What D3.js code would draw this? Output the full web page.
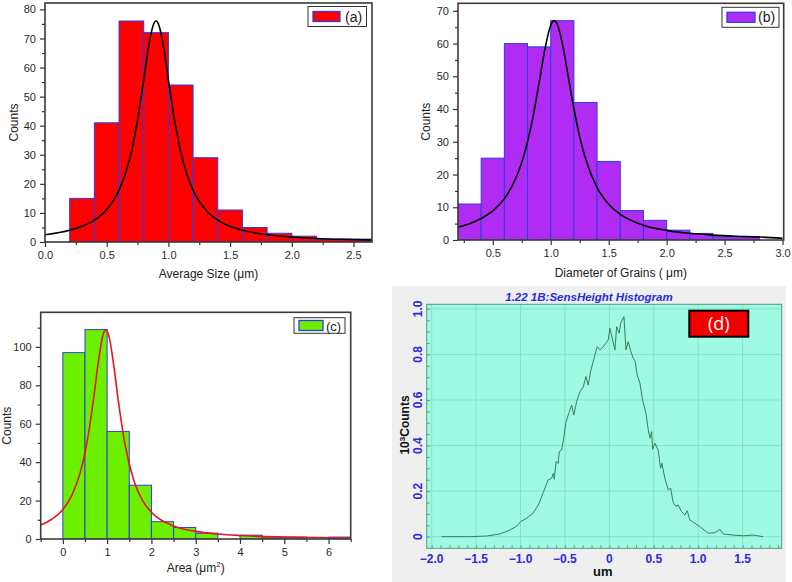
<!DOCTYPE html>
<html>
<head>
<meta charset="utf-8">
<script src="https://cdn.jsdelivr.net/npm/d3@7"></script>
<style>
  body { margin: 0; background: #fff; }
  svg { display: block; font-family: "Liberation Sans", Arial, sans-serif; }
</style>
</head>
<body>
<div id="chart"></div>
<script>
// ---- (a) Average Size ----
const sizeEdges = [0.2, 0.4, 0.6, 0.8, 1.0, 1.2, 1.4, 1.6, 1.8, 2.0, 2.2, 2.4, 2.6, 2.8];
const sizeCounts = [15, 41, 76, 72, 54, 29, 11, 5, 3, 2, 1, 1, 1];
const sizeFitX = [0, 0.2, 0.3, 0.4, 0.5, 0.6, 0.65, 0.7, 0.75, 0.8, 0.85, 0.875, 0.9, 0.925, 0.95, 1.0, 1.05, 1.1, 1.15, 1.2, 1.3, 1.4, 1.5, 1.6, 1.8, 2.0, 2.2, 2.4, 2.65];
const sizeFitY = [2.5, 4.05, 5.41, 7.55, 11.2, 17.8, 23.3, 31.0, 41.9, 55.8, 69.7, 74.3, 76, 74.3, 69.7, 55.8, 41.9, 31.0, 23.3, 17.8, 11.2, 7.55, 5.41, 4.05, 2.5, 1.7, 1.22, 0.92, 0.68];

// ---- (b) Diameter of Grains ----
const diamEdges = [0.2, 0.4, 0.6, 0.8, 1.0, 1.2, 1.4, 1.6, 1.8, 2.0, 2.2, 2.4, 2.6, 2.8];
const diamCounts = [11, 25, 60, 59, 67, 42, 24, 9, 6, 3, 2, 1, 1];
const diamFitX = [0.2, 0.3, 0.4, 0.5, 0.6, 0.7, 0.75, 0.8, 0.85, 0.9, 0.95, 1.0, 1.03, 1.05, 1.1, 1.15, 1.2, 1.25, 1.3, 1.4, 1.5, 1.6, 1.8, 2.0, 2.2, 2.4, 2.6, 2.8, 3.0];
const diamFitY = [3.94, 5.0, 6.55, 8.9, 12.64, 18.97, 23.7, 30.0, 38.2, 48.1, 58.3, 65.6, 67, 66.4, 60.1, 50.2, 40.1, 31.5, 24.9, 16.0, 10.9, 7.83, 4.53, 2.93, 2.04, 1.5, 1.15, 0.91, 0.5];

// ---- (c) Area ----
const areaEdges = [0, 0.5, 1, 1.5, 2, 2.5, 3, 3.5, 4, 4.5, 5, 5.5, 6, 6.5];
const areaCounts = [97, 109, 56, 28, 9, 6, 3, 0, 2, 1, 1, 0, 1];
const areaFitX = [-0.5, -0.25, 0, 0.2, 0.4, 0.5, 0.6, 0.7, 0.8, 0.9, 0.97, 1.05, 1.15, 1.25, 1.4, 1.6, 1.8, 2.0, 2.5, 3.0, 3.5, 4.0, 5.0, 6.0, 6.5];
const areaFitY = [7.3, 10.28, 15.4, 22.6, 35.2, 44.9, 57.9, 74.1, 91.9, 105.7, 109, 104.7, 90.2, 72.4, 49.7, 30.6, 20.0, 13.9, 6.77, 3.95, 2.58, 1.81, 1.03, 0.66, 0.55];

// ---- (d) SensHeight histogram (10^3 counts) ----
const heightX = [-1.89, -1.57, -1.38, -1.23, -1.12, -1.04, -1.0, -0.93, -0.86, -0.80, -0.74, -0.69, -0.65, -0.63, -0.62, -0.60, -0.575, -0.564, -0.537, -0.511, -0.49, -0.463, -0.45, -0.425, -0.40, -0.368, -0.331, -0.294, -0.264, -0.238, -0.211, -0.181, -0.162, -0.136, -0.106, -0.069, -0.039, -0.013, 0.006, 0.032, 0.063, 0.082, 0.111, 0.127, 0.164, 0.187, 0.212, 0.243, 0.269, 0.291, 0.314, 0.344, 0.374, 0.412, 0.438, 0.457, 0.476, 0.487, 0.513, 0.55, 0.577, 0.592, 0.625, 0.663, 0.69, 0.719, 0.749, 0.775, 0.813, 0.851, 0.876, 0.907, 0.963, 1.019, 1.113, 1.188, 1.244, 1.281, 1.394, 1.506, 1.619, 1.73];
const heightY = [0, 0, 0.003, 0.012, 0.029, 0.047, 0.066, 0.081, 0.103, 0.139, 0.198, 0.249, 0.256, 0.278, 0.252, 0.329, 0.322, 0.373, 0.381, 0.439, 0.50, 0.534, 0.55, 0.578, 0.534, 0.593, 0.637, 0.656, 0.703, 0.666, 0.725, 0.769, 0.798, 0.834, 0.82, 0.834, 0.849, 0.864, 0.915, 0.871, 0.82, 0.922, 0.893, 0.937, 0.966, 0.82, 0.856, 0.812, 0.783, 0.769, 0.71, 0.674, 0.6, 0.542, 0.469, 0.432, 0.461, 0.384, 0.41, 0.381, 0.3, 0.322, 0.256, 0.205, 0.212, 0.149, 0.132, 0.139, 0.11, 0.095, 0.114, 0.073, 0.059, 0.044, 0.015, 0.018, 0.032, 0.012, 0.007, 0.004, 0.007, 0];
const heightTicksX = [-2.0, -1.5, -1.0, -0.5, 0, 0.5, 1.0, 1.5];
const heightTicksY = [0, 0.2, 0.4, 0.6, 0.8, 1.0];

const svg = d3.select("#chart").append("svg").attr("width", 792).attr("height", 582);
svg.append("rect").attr("width", 792).attr("height", 582).attr("fill", "#fff");

const BAR_EDGE = "#2b3ee6";
const AXIS_COL = "#333";

function range(a, b, s) {
  const out = [];
  for (let v = a; v <= b + 1e-9; v += s) out.push(+v.toFixed(4));
  return out;
}

function drawHist(p) {
  const x = d3.scaleLinear().domain(p.xDomain).range([p.left, p.right]);
  const y = d3.scaleLinear().domain(p.yDomain).range([p.bottom, p.top]);
  const g = svg.append("g");

  g.append("clipPath").attr("id", "clip-" + p.id)
    .append("rect")
    .attr("x", p.left).attr("y", p.top)
    .attr("width", p.right - p.left).attr("height", p.bottom - p.top);

  const plot = g.append("g").attr("clip-path", `url(#clip-${p.id})`);

  plot.selectAll("rect.bar")
    .data(p.counts)
    .join("rect")
    .attr("class", "bar")
    .attr("x", (d, i) => x(p.edges[i]))
    .attr("width", (d, i) => x(p.edges[i + 1]) - x(p.edges[i]))
    .attr("y", d => y(d))
    .attr("height", d => y(0) - y(d))
    .attr("fill", p.fill)
    .attr("stroke", BAR_EDGE)
    .attr("stroke-width", 1);

  const line = d3.line()
    .x(d => x(d[0]))
    .y(d => y(d[1]))
    .curve(d3.curveMonotoneX);
  plot.append("path")
    .datum(p.fitX.map((v, i) => [v, p.fitY[i]]))
    .attr("d", line)
    .attr("fill", "none")
    .attr("stroke", p.fitColor)
    .attr("stroke-width", 1.6);

  // axes: majors with labels, minors without
  const xAx = g.append("g").attr("transform", `translate(0,${p.bottom})`)
    .call(d3.axisBottom(x).tickValues(p.xTicks).tickFormat(p.xFmt).tickSize(5).tickPadding(4));
  const xMin = g.append("g").attr("transform", `translate(0,${p.bottom})`)
    .call(d3.axisBottom(x).tickValues(p.xMinor).tickFormat("").tickSize(3));
  const yAx = g.append("g").attr("transform", `translate(${p.left},0)`)
    .call(d3.axisLeft(y).tickValues(p.yTicks).tickSize(5).tickPadding(4));
  const yMin = g.append("g").attr("transform", `translate(${p.left},0)`)
    .call(d3.axisLeft(y).tickValues(p.yMinor).tickFormat("").tickSize(3));

  [xAx, xMin, yAx, yMin].forEach(a => {
    a.select(".domain").remove();
    a.selectAll("line").attr("stroke", AXIS_COL).attr("stroke-width", 1.2);
    a.selectAll("text").attr("fill", "#2a2a2a").attr("font-size", 11)
      .attr("font-family", "Liberation Sans, Arial, sans-serif");
  });

  // frame
  g.append("rect")
    .attr("x", p.left).attr("y", p.top)
    .attr("width", p.right - p.left).attr("height", p.bottom - p.top)
    .attr("fill", "none").attr("stroke", "#3a3a3a").attr("stroke-width", 1.6);

  // legend
  const L = p.legend;
  g.append("rect").attr("x", L.x).attr("y", L.y).attr("width", L.w).attr("height", L.h)
    .attr("fill", "#fff").attr("stroke", "#333").attr("stroke-width", 1);
  g.append("rect").attr("x", L.x + 5).attr("y", L.y + L.h / 2 - 5).attr("width", L.sw).attr("height", 10)
    .attr("fill", p.fill).attr("stroke", BAR_EDGE).attr("stroke-width", 1.3);
  g.append("text").attr("x", L.x + L.sw + L.tx).attr("y", L.y + L.h / 2 + 5)
    .attr("font-size", L.fs).attr("fill", "#222").text(L.text);

  // axis titles
  const xt = g.append("text").attr("x", (p.left + p.right) / 2).attr("y", p.xTitleY)
    .attr("text-anchor", "middle").attr("font-size", 12).attr("fill", "#222");
  p.xTitle(xt);
  g.append("text")
    .attr("transform", `translate(${p.yTitleX},${(p.top + p.bottom) / 2}) rotate(-90)`)
    .attr("text-anchor", "middle").attr("dy", "0.35em")
    .attr("font-size", 12).attr("fill", "#222").text("Counts");
}

const f1 = d3.format(".1f");

drawHist({
  id: "a", left: 45, top: 3, right: 372, bottom: 242,
  xDomain: [0, 2.65], yDomain: [0, 82.2],
  edges: sizeEdges, counts: sizeCounts, fitX: sizeFitX, fitY: sizeFitY,
  fill: "#ff0000", fitColor: "#000",
  xTicks: range(0, 2.5, 0.5), xMinor: range(0.25, 2.25, 0.5), xFmt: f1,
  yTicks: range(0, 80, 10), yMinor: range(5, 75, 10),
  legend: { x: 308, y: 6.5, w: 58.5, h: 20, sw: 27, tx: 10, fs: 14, text: "(a)" },
  xTitleY: 277.5, yTitleX: 14,
  xTitle: t => t.text("Average Size (\u03bcm)")
});

drawHist({
  id: "b", left: 458, top: 3.3, right: 783.7, bottom: 240,
  xDomain: [0.2, 3.01], yDomain: [0, 72.3],
  edges: diamEdges, counts: diamCounts, fitX: diamFitX, fitY: diamFitY,
  fill: "#b02cf2", fitColor: "#000",
  xTicks: range(0.5, 3.0, 0.5), xMinor: range(0.25, 2.75, 0.5), xFmt: f1,
  yTicks: range(0, 70, 10), yMinor: range(5, 65, 10),
  legend: { x: 722, y: 7.3, w: 57, h: 20, sw: 28, tx: 8, fs: 14, text: "(b)" },
  xTitleY: 276.5, yTitleX: 426,
  xTitle: t => t.text("Diameter of Grains ( \u03bcm)")
});

drawHist({
  id: "c", left: 40.7, top: 312.3, right: 350.7, bottom: 539,
  xDomain: [-0.5, 6.5], yDomain: [0, 118],
  edges: areaEdges, counts: areaCounts, fitX: areaFitX, fitY: areaFitY,
  fill: "#6cf000", fitColor: "#e8141e",
  xTicks: range(0, 6, 1), xMinor: range(-0.5, 6.5, 1), xFmt: d3.format("d"),
  yTicks: range(0, 100, 20), yMinor: range(10, 110, 20),
  legend: { x: 294, y: 317.7, w: 51, h: 15.6, sw: 24, tx: 8, fs: 13, text: "(c)" },
  xTitleY: 572, yTitleX: 7,
  xTitle: t => {
    t.append("tspan").text("Area (\u03bcm");
    t.append("tspan").attr("font-size", 8).attr("dy", -5).text("2");
    t.append("tspan").attr("dy", 5).text(")");
  }
});

// ---- panel (d) ----
const dL = 426.7, dT = 304.3, dR = 781.7, dB = 548.3;
const gd = svg.append("g");
gd.append("rect").attr("x", 392).attr("y", 286).attr("width", 394).attr("height", 296).attr("fill", "#efefef");

const xd = d3.scaleLinear().domain([-2.056, 1.94]).range([dL, dR]);
const yd = d3.scaleLinear().domain([-0.051, 1.02]).range([dB, dT]);

gd.append("rect").attr("x", dL).attr("y", dT).attr("width", dR - dL).attr("height", dB - dT)
  .attr("fill", "#a0f9e2");

// grid
gd.append("g").selectAll("line").data(heightTicksX).join("line")
  .attr("x1", d => xd(d)).attr("x2", d => xd(d)).attr("y1", dT).attr("y2", dB)
  .attr("stroke", "#80e6c4").attr("stroke-width", 1);
gd.append("g").selectAll("line").data(heightTicksY).join("line")
  .attr("y1", d => yd(d)).attr("y2", d => yd(d)).attr("x1", dL).attr("x2", dR)
  .attr("stroke", "#80e6c4").attr("stroke-width", 1);

// small inner ticks along the frame
const xAxD = gd.append("g").attr("transform", `translate(0,${dB})`)
  .call(d3.axisTop(xd).tickValues(range(-2.0, 1.9, 0.1)).tickFormat("").tickSize(3));
const yAxD = gd.append("g").attr("transform", `translate(${dL},0)`)
  .call(d3.axisRight(yd).tickValues(range(0, 1.0, 0.05)).tickFormat("").tickSize(3));
[xAxD, yAxD].forEach(a => {
  a.select(".domain").remove();
  a.selectAll("line").attr("stroke", "#3f8f6f").attr("stroke-width", 0.8);
});

gd.append("path")
  .datum(heightX.map((v, i) => [v, heightY[i]]))
  .attr("d", d3.line().x(d => xd(d[0])).y(d => yd(d[1])))
  .attr("fill", "none").attr("stroke", "#3c7d5d").attr("stroke-width", 1);

gd.append("rect").attr("x", dL).attr("y", dT).attr("width", dR - dL).attr("height", dB - dT)
  .attr("fill", "none").attr("stroke", "#4f9c80").attr("stroke-width", 1);

const fd = d => d === 0 ? "0" : f1(d);
gd.append("g").selectAll("text").data(heightTicksX).join("text")
  .attr("x", d => xd(d)).attr("y", 562.5)
  .attr("text-anchor", "middle").attr("font-size", 12).attr("font-weight", "bold")
  .attr("fill", "#2a2ad8").text(fd);
gd.append("g").selectAll("text").data(heightTicksY).join("text")
  .attr("transform", d => `translate(421.5,${yd(d)}) rotate(-90)`)
  .attr("text-anchor", "middle").attr("font-size", 12).attr("font-weight", "bold")
  .attr("fill", "#2a2ad8").text(fd);

gd.append("text").attr("x", 589).attr("y", 300.8).attr("text-anchor", "middle")
  .attr("font-size", 11.5).attr("font-weight", "bold").attr("font-style", "italic")
  .attr("fill", "#2a2ad8").text("1.22 1B:SensHeight Histogram");

gd.append("text").attr("x", 602.7).attr("y", 576).attr("text-anchor", "middle")
  .attr("font-size", 13).attr("font-weight", "bold").attr("fill", "#111").text("um");

const yt = gd.append("text")
  .attr("transform", `translate(408.5,425) rotate(-90)`)
  .attr("text-anchor", "middle").attr("font-size", 12).attr("font-weight", "bold").attr("fill", "#111");
yt.append("tspan").text("10");
yt.append("tspan").attr("font-size", 8).attr("dy", -4).text("3");
yt.append("tspan").attr("dy", 4).text("Counts");

// (d) label box
gd.append("rect").attr("x", 689.3).attr("y", 310.7).attr("width", 59).attr("height", 26)
  .attr("fill", "#f20000").attr("stroke", "#000").attr("stroke-width", 2);
gd.append("text").attr("x", 718.8).attr("y", 330).attr("text-anchor", "middle")
  .attr("font-family", "Open Sans, sans-serif").attr("font-size", 18).attr("fill", "#fff").text("(d)");
</script>
</body>
</html>
